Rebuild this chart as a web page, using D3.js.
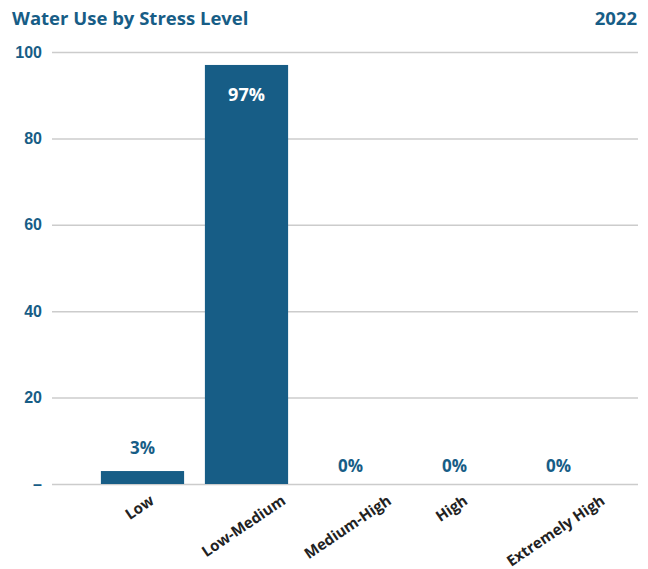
<!DOCTYPE html>
<html>
<head>
<meta charset="utf-8">
<script src="https://cdn.jsdelivr.net/npm/d3@7"></script>
<style>
  body { margin: 0; background: #fff; }
  svg { display: block; font-family: "Open Sans", sans-serif; }
</style>
</head>
<body>
<svg></svg>
<script>
const width = 648;
const height = 569;
const margin = ({top: 52, right: 10, bottom: 85, left: 52});

const categories = ["Low", "Low-Medium", "Medium-High", "High", "Extremely High"];
const values = [3, 97, 0, 0, 0];
const valueLabels = ["3%", "97%", "0%", "0%", "0%"];
const yTicks = [0, 20, 40, 60, 80, 100];
const yTickLabels = ["–", "20", "40", "60", "80", "100"];
const title = "Water Use by Stress Level";
const year = "2022";

const blue = "#175d86";
const angle = 34;

const svg = d3.select("svg")
    .attr("width", width)
    .attr("height", height)
    .attr("viewBox", [0, 0, width, height]);

const x = d3.scaleBand()
    .domain(categories)
    .range([90.5, 610.5])
    .paddingInner(0.2)
    .paddingOuter(0.1);

const y = d3.scaleLinear()
    .domain([0, 100])
    .range([height - margin.bottom, margin.top]);

// title + year
svg.append("text")
    .attr("x", 12)
    .attr("y", 25)
    .attr("fill", blue)
    .attr("font-size", 18.5)
    .attr("font-weight", 700)
    .text(title);

svg.append("text")
    .attr("x", width - 11)
    .attr("y", 25)
    .attr("text-anchor", "end")
    .attr("fill", blue)
    .attr("font-size", 18.5)
    .attr("font-weight", 700)
    .text(year);

// grid + y labels
const yAxis = g => g
    .attr("transform", `translate(${margin.left},0)`)
    .call(d3.axisLeft(y)
        .tickValues(yTicks)
        .tickSize(-(width - margin.left - margin.right))
        .tickPadding(10)
        .tickFormat((d, i) => yTickLabels[i]))
    .call(g => g.select(".domain").remove())
    .call(g => g.selectAll(".tick line")
        .attr("stroke", "#cccccc")
        .attr("stroke-width", 1.5))
    .call(g => g.selectAll(".tick text")
        .attr("fill", blue)
        .attr("font-size", 16)
        .attr("font-weight", 700));

svg.append("g")
    .call(yAxis);

// bars
svg.append("g")
    .attr("fill", blue)
    .selectAll("rect")
    .data(values)
    .join("rect")
    .attr("x", (d, i) => x(categories[i]))
    .attr("y", d => y(d))
    .attr("width", x.bandwidth())
    .attr("height", d => y(0) - y(d));

// value labels
svg.append("g")
    .attr("text-anchor", "middle")
    .attr("font-weight", 700)
    .selectAll("text")
    .data(values)
    .join("text")
    .attr("x", (d, i) => x(categories[i]) + x.bandwidth() / 2)
    .attr("y", d => d > 50 ? y(d) + 36 : y(d) - (d > 0 ? 17 : 12))
    .attr("fill", d => d > 50 ? "#fff" : blue)
    .attr("font-size", d => d > 50 ? 18 : 17)
    .text((d, i) => valueLabels[i]);

// rotated category labels, centred on the tick, tops aligned
const rad = angle * Math.PI / 180;
const labelTop = y(0) + 10;
svg.append("g")
    .attr("text-anchor", "middle")
    .attr("font-weight", 700)
    .attr("font-size", 15)
    .attr("fill", "#222")
    .selectAll("text")
    .data(categories)
    .join("text")
    .text(d => d)
    .attr("transform", function(d) {
        const L = this.getComputedTextLength();
        const cx = x(d) + x.bandwidth() / 2;
        const cy = labelTop + (L / 2) * Math.sin(rad) + 11 * Math.cos(rad);
        return `translate(${cx},${cy}) rotate(${-angle})`;
    });
</script>
</body>
</html>
